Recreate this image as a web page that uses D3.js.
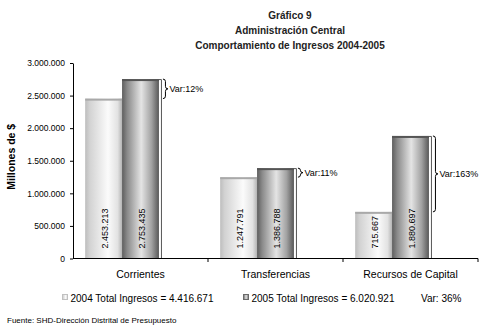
<!DOCTYPE html>
<html>
<head>
<meta charset="utf-8">
<script src="https://cdn.jsdelivr.net/npm/d3@7/dist/d3.min.js"></script>
<style>
  html, body { margin: 0; padding: 0; background: #ffffff; }
  svg { display: block; font-family: "Liberation Sans", Arial, sans-serif; }
</style>
</head>
<body>
<svg id="chart" width="483" height="333"></svg>
<script>
// Ingresos de la Administración Central por concepto (millones de $)
const categories = ["Corrientes", "Transferencias", "Recursos de Capital"];
const years = ["2004", "2005"];
const values2004 = [2453213, 1247791, 715667];
const values2005 = [2753435, 1386788, 1880697];
const yTicks = [0, 500000, 1000000, 1500000, 2000000, 2500000, 3000000];
const titleLines = ["Gráfico 9", "Administración Central", "Comportamiento de Ingresos 2004-2005"];
const legendLabels = ["2004 Total Ingresos = 4.416.671", "2005 Total Ingresos = 6.020.921"];
const totalVarLabel = "Var: 36%";
const sourceText = "Fuente: SHD-Dirección Distrital de Presupuesto";

const locale = d3.formatLocale({ decimal: ",", thousands: ".", grouping: [3], currency: ["$", ""] });
const fmtNum = locale.format(",d");

const svg = d3.select("#chart");
const plot = { left: 73, right: 478, top: 63, bottom: 258.5 };

const x = d3.scaleBand().domain(categories).range([plot.left, plot.right]);
// third slot holds the variation brace next to each pair of bars
const xInner = d3.scaleBand().domain([...years, "var"]).range([0, x.bandwidth()]).paddingOuter(0.33);
const y = d3.scaleLinear().domain([0, 3000000]).range([plot.bottom, plot.top]);

// cylinder-like shading for each year
const defs = svg.append("defs");
const gradStops = {
  "2004": [[0, "#bdbdbd"], [0.12, "#d2d2d2"], [0.62, "#fbfbfb"], [0.88, "#e2e2e2"], [1, "#b4b4b4"]],
  "2005": [[0, "#5e5e5e"], [0.14, "#8a8a8a"], [0.52, "#e4e4e4"], [0.8, "#a2a2a2"], [1, "#585858"]]
};
years.forEach(yr => {
  const g = defs.append("linearGradient").attr("id", "g" + yr)
    .attr("x1", "0").attr("x2", "1").attr("y1", "0").attr("y2", "0");
  gradStops[yr].forEach(([o, c]) => g.append("stop").attr("offset", o).attr("stop-color", c));
});
const capColor = { "2004": "#a9a9a9", "2005": "#555555" };

// title
svg.append("g").selectAll("text").data(titleLines).join("text")
  .attr("x", 290).attr("y", (d, i) => 18.5 + i * 15)
  .attr("text-anchor", "middle").attr("font-size", "10px").attr("font-weight", "bold")
  .attr("fill", "#222").text(d => d);

// y axis
const yAxis = d3.axisLeft(y).tickValues(yTicks).tickSize(3).tickSizeOuter(0).tickPadding(5)
  .tickFormat(d => fmtNum(d));
const gy = svg.append("g").attr("transform", `translate(${plot.left},0)`).call(yAxis);
gy.selectAll("text").attr("font-size", "8.5px").attr("fill", "#000").attr("font-family", "Liberation Sans, Arial, sans-serif");
gy.selectAll("line, path").attr("stroke", "#000");

svg.append("text")
  .attr("transform", `translate(15,${(plot.top + plot.bottom) / 2 - 4}) rotate(-90)`)
  .attr("text-anchor", "middle").attr("font-size", "10.5px").attr("font-weight", "bold")
  .text("Millones de $");

// bars
const rows = categories.map((c, i) => ({ cat: c, v: { "2004": values2004[i], "2005": values2005[i] } }));
const barData = rows.flatMap(r => years.map(yr => ({ cat: r.cat, year: yr, value: r.v[yr] })));

const bars = svg.append("g");
bars.selectAll("rect.bar").data(barData).join("rect").attr("class", "bar")
  .attr("x", d => x(d.cat) + xInner(d.year))
  .attr("width", xInner.bandwidth())
  .attr("y", d => y(d.value))
  .attr("height", d => y(0) - y(d.value))
  .attr("fill", d => `url(#g${d.year})`);
bars.selectAll("rect.cap").data(barData).join("rect").attr("class", "cap")
  .attr("x", d => x(d.cat) + xInner(d.year))
  .attr("width", xInner.bandwidth())
  .attr("y", d => y(d.value))
  .attr("height", 2)
  .attr("fill", d => capColor[d.year]);

// value labels inside bars
bars.selectAll("text").data(barData).join("text")
  .attr("transform", d => `translate(${x(d.cat) + xInner(d.year) + xInner.bandwidth() / 2 + 1},${y(0) - 10}) rotate(-90)`)
  .attr("dominant-baseline", "central")
  .attr("font-size", "9px").attr("fill", "#000")
  .text(d => fmtNum(d.value));

// frame line on the 2005 bars and variation braces
const fmtPct = d3.format(".0%");
const braces = svg.append("g");
rows.forEach(r => {
  const right = x(r.cat) + xInner("2005") + xInner.bandwidth();
  const yTop = y(r.v["2005"]);
  const yBot = y(r.v["2004"]);
  braces.append("path")
    .attr("d", `M${right},${yTop + 0.5}H${right + 2.5}V${y(0)}`)
    .attr("fill", "none").attr("stroke", "#555").attr("stroke-width", 1);
  const xa = right + 4, xb = right + 6.5, xc = right + 9, ym = (yTop + yBot) / 2;
  const rr = Math.min(2.5, (yBot - yTop) / 4);
  braces.append("path")
    .attr("d", `M${xa},${yTop}Q${xb},${yTop} ${xb},${yTop + rr}L${xb},${ym - rr}Q${xb},${ym} ${xc},${ym}` +
      `Q${xb},${ym} ${xb},${ym + rr}L${xb},${yBot - rr}Q${xb},${yBot} ${xa},${yBot}`)
    .attr("fill", "none").attr("stroke", "#000").attr("stroke-width", 1);
  braces.append("text")
    .attr("x", right + 10.5).attr("y", ym).attr("dominant-baseline", "central")
    .attr("font-size", "9px").attr("fill", "#000")
    .text("Var:" + fmtPct(r.v["2005"] / r.v["2004"] - 1));
});

// x axis
const gx = svg.append("g");
gx.append("line").attr("x1", plot.left).attr("x2", plot.right)
  .attr("y1", y(0)).attr("y2", y(0)).attr("stroke", "#000");
gx.selectAll("line.tick").data(categories).join("line").attr("class", "tick")
  .attr("x1", d => x(d) + x.bandwidth()).attr("x2", d => x(d) + x.bandwidth())
  .attr("y1", y(0)).attr("y2", y(0) + 3.5).attr("stroke", "#000");
gx.selectAll("text").data(categories).join("text")
  .attr("x", d => x(d) + x.bandwidth() / 2).attr("y", 278)
  .attr("text-anchor", "middle").attr("font-size", "10.5px").attr("fill", "#000")
  .text(d => d);

// legend
const legendX = [62, 243];
const legend = svg.append("g");
years.forEach((yr, i) => {
  legend.append("rect").attr("x", legendX[i] + 0.5).attr("y", 294.5).attr("width", 5).attr("height", 5)
    .attr("fill", `url(#g${yr})`).attr("stroke", i === 0 ? "#c0c0c0" : "#6a6a6a");
  legend.append("text").attr("x", legendX[i] + 8.5).attr("y", 301.5)
    .attr("font-size", "10px").attr("fill", "#000").text(legendLabels[i]);
});
legend.append("text").attr("x", 421).attr("y", 301.5)
  .attr("font-size", "10px").attr("fill", "#000").text(totalVarLabel);

// source note
svg.append("text").attr("x", 7).attr("y", 323)
  .attr("font-size", "8px").attr("fill", "#000").text(sourceText);
</script>
</body>
</html>
